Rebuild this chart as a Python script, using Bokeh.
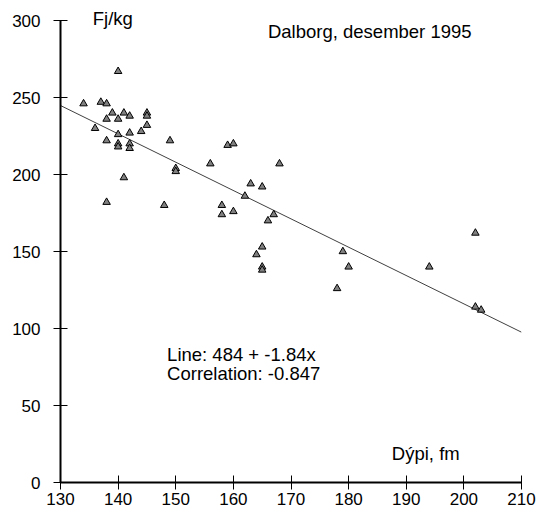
from bokeh.plotting import figure
from bokeh.models import Range1d, FixedTicker, Label
from bokeh.embed import file_html
from bokeh.resources import INLINE

# Data: depth (fm) vs energy (Fj/kg), Dalborg December 1995
depth = [134, 136, 137, 138, 138, 138, 138, 139, 140, 140,
         140, 140, 140, 141, 141, 142, 142, 142, 142, 144,
         145, 145, 145, 148, 149, 150, 150, 156, 158, 158,
         159, 160, 160, 162, 163, 164, 165, 165, 165, 165,
         166, 167, 168, 178, 179, 180, 194, 202, 202, 203]
energy = [246, 230, 247, 246, 236, 222, 182, 240, 267, 236,
          226, 220, 218, 240, 198, 238, 227, 220, 217, 228,
          240, 238, 232, 180, 222, 204, 202, 207, 180, 174,
          219, 220, 176, 186, 194, 148, 192, 153, 140, 138,
          170, 174, 207, 126, 150, 140, 140, 162, 114, 112]

intercept = 484
slope = -1.84
line_x = [130, 210]
line_y = [intercept + slope * v for v in line_x]

x_ticks = [130, 140, 150, 160, 170, 180, 190, 200, 210]
y_ticks = [0, 50, 100, 150, 200, 250, 300]

FONT = "Liberation Sans"
FS_TICK = "17px"
FS_TEXT = "18.5px"

# frame: 482 px tall, 0..300 spans 462 px -> extra headroom for the unit label
p = figure(width=547, height=517, output_backend="svg", toolbar_location=None,
           x_range=Range1d(130, 210), y_range=Range1d(0, 313),
           min_border_left=60, min_border_right=26, min_border_top=0,
           min_border_bottom=35)
p.outline_line_color = None
p.xgrid.visible = False
p.ygrid.visible = False
p.background_fill_color = "white"
p.border_fill_color = "white"

for ax in (p.xaxis[0], p.yaxis[0]):
    ax.axis_line_width = 2
    ax.axis_line_color = "black"
    ax.major_tick_line_color = "black"
    ax.major_tick_line_width = 1
    ax.major_tick_in = 7
    ax.major_tick_out = 7
    ax.minor_tick_line_color = None
    ax.major_label_text_font = FONT
    ax.major_label_text_font_size = FS_TICK
    ax.major_label_text_color = "black"

p.yaxis.bounds = (0, 300)
p.xaxis.ticker = FixedTicker(ticks=x_ticks)
p.yaxis.ticker = FixedTicker(ticks=y_ticks)
p.xaxis.major_label_standoff = 3
p.yaxis.major_label_standoff = 13

p.line(line_x, line_y, line_color="#404040", line_width=1)
p.scatter(depth, energy, marker="triangle", size=7.5, fill_color="#808080",
          line_color="black", line_width=1)

def add_label(x, y, text):
    p.add_layout(Label(x=x, y=y, text=text, text_font=FONT, text_font_size=FS_TEXT,
                       text_color="black", text_baseline="alphabetic",
                       text_align="left"))

add_label(135.6, 301.5, "Fj/kg")
add_label(166, 292.8, "Dalborg, desember 1995")
add_label(148.5, 83, "Line: 484 + -1.84x")
add_label(148.5, 70.5, "Correlation: -0.847")
add_label(187.5, 19, "Dýpi, fm")

open("out.html", "w").write(file_html(p, INLINE))
